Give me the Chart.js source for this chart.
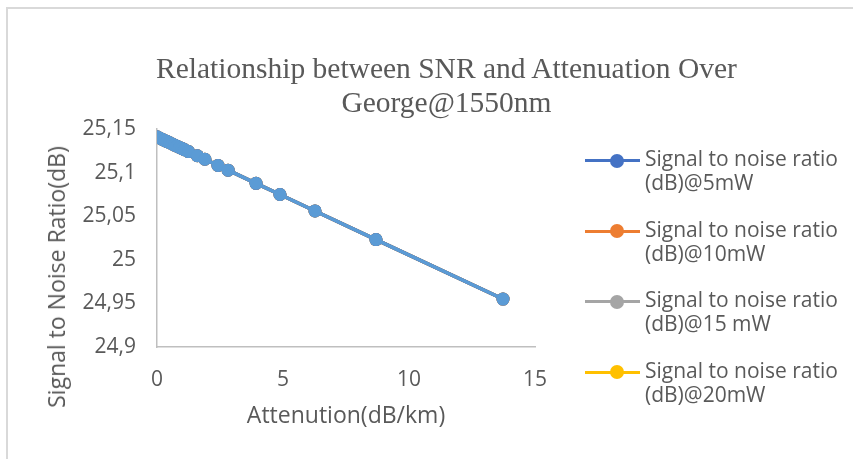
<!DOCTYPE html>
<html>
<head>
<meta charset="utf-8">
<script src="https://cdn.jsdelivr.net/npm/chart.js@4/dist/chart.umd.min.js"></script>
<style>
  html, body { margin: 0; padding: 0; background: #fff; overflow: hidden; }
  #wrap { position: relative; width: 853px; height: 459px; overflow: hidden; background: #fff; }
  #frame { position: absolute; left: 6px; top: 7px; width: 900px; height: 500px; border: 2px solid #d9d9d9; }
  #chart { position: absolute; left: 0; top: 0; }
  #title {
    position: absolute; left: 40px; width: 813px; top: 51px;
    text-align: center; font-family: "Liberation Serif", serif; font-size: 29.5px;
    line-height: 34px; color: #595959;
  }
  #ytitle {
    position: absolute; left: 56px; top: 277px; transform: translate(-50%, -50%) rotate(-90deg);
    font-family: "Open Sans", sans-serif; font-size: 23px; color: #595959; white-space: nowrap;
  }
  #legend { position: absolute; left: 585px; top: 146px; font-family: "Open Sans", sans-serif; font-size: 21px; color: #595959; }
  .item { position: relative; height: 70.5px; }
  .swatch { position: absolute; left: 0; top: 13px; width: 55px; height: 3px; }
  .dot { position: absolute; left: 25px; top: -5.5px; width: 14px; height: 14px; border-radius: 50%; }
  .text { position: absolute; left: 60px; top: 0; line-height: 24px; white-space: nowrap; }
</style>
</head>
<body>
<div id="wrap">
  <div id="frame"></div>
  <canvas id="chart" width="853" height="459"></canvas>
  <div id="title">Relationship between SNR and Attenuation Over<br>George@1550nm</div>
  <div id="ytitle">Signal to Noise Ratio(dB)</div>
  <div id="legend"></div>
</div>
<script>
// attenuation (dB/km)
const attenuation = [0, 0.1, 0.2, 0.3, 0.4, 0.5, 0.6, 0.7, 0.8, 0.9, 1.0, 1.1, 1.25,
  1.6, 1.9, 2.42, 2.82, 3.93, 4.88, 6.27, 8.69, 13.73];

// SNR (dB), the series all sit on top of each other
const snr5mW = [25.141, 25.1396, 25.1383, 25.1369, 25.1356, 25.1342, 25.1329, 25.1315, 25.1302, 25.1288, 25.1275, 25.1261, 25.1241,
  25.1193, 25.1153, 25.1082, 25.1028, 25.0877, 25.0749, 25.0560, 25.0232, 24.9550];
const snr10mW = [25.141, 25.1396, 25.1383, 25.1369, 25.1356, 25.1342, 25.1329, 25.1315, 25.1302, 25.1288, 25.1275, 25.1261, 25.1241,
  25.1193, 25.1153, 25.1082, 25.1028, 25.0877, 25.0749, 25.0560, 25.0232, 24.9550];
const snr15mW = [25.141, 25.1396, 25.1383, 25.1369, 25.1356, 25.1342, 25.1329, 25.1315, 25.1302, 25.1288, 25.1275, 25.1261, 25.1241,
  25.1193, 25.1153, 25.1082, 25.1028, 25.0877, 25.0749, 25.0560, 25.0232, 24.9550];
const snr20mW = [25.141, 25.1396, 25.1383, 25.1369, 25.1356, 25.1342, 25.1329, 25.1315, 25.1302, 25.1288, 25.1275, 25.1261, 25.1241,
  25.1193, 25.1153, 25.1082, 25.1028, 25.0877, 25.0749, 25.0560, 25.0232, 24.9550];
// extra series that ends up drawn on top (not in the legend)
const snrTop = [25.141, 25.1396, 25.1383, 25.1369, 25.1356, 25.1342, 25.1329, 25.1315, 25.1302, 25.1288, 25.1275, 25.1261, 25.1241,
  25.1193, 25.1153, 25.1082, 25.1028, 25.0877, 25.0749, 25.0560, 25.0232, 24.9550];

const seriesNames = ['Signal to noise ratio (dB)@5mW', 'Signal to noise ratio (dB)@10mW',
  'Signal to noise ratio (dB)@15 mW', 'Signal to noise ratio (dB)@20mW'];
const legendLines = [['Signal to noise ratio', '(dB)@5mW'], ['Signal to noise ratio', '(dB)@10mW'],
  ['Signal to noise ratio', '(dB)@15 mW'], ['Signal to noise ratio', '(dB)@20mW']];
const seriesColors = ['#4472C4', '#ED7D31', '#A5A5A5', '#FFC000'];

const xTickLabels = ['0', '5', '10', '15'];
const yTickLabels = ['24,9', '24,95', '25', '25,05', '25,1', '25,15'];

const toPoints = ys => attenuation.map((x, i) => ({ x, y: ys[i] }));

function makeDataset(label, ys, color) {
  return {
    label,
    data: toPoints(ys),
    borderColor: color,
    backgroundColor: color,
    borderWidth: 3.5,
    pointRadius: 6.5,
    pointHoverRadius: 6.5,
    pointBorderWidth: 0,
    showLine: true,
    fill: false
  };
}

// chart.js paints dataset 0 last, so the top one goes first
const datasets = [
  makeDataset('top', snrTop, '#5B9BD5'),
  makeDataset(seriesNames[0], snr5mW, seriesColors[0]),
  makeDataset(seriesNames[1], snr10mW, seriesColors[1]),
  makeDataset(seriesNames[2], snr15mW, seriesColors[2]),
  makeDataset(seriesNames[3], snr20mW, seriesColors[3])
];

const tickFont = { family: 'Open Sans', size: 21 };
const titleFont = { family: 'Open Sans', size: 23 };

new Chart(document.getElementById('chart').getContext('2d'), {
  type: 'scatter',
  data: { datasets },
  options: {
    responsive: false,
    animation: false,
    layout: { padding: { left: 15, top: 129, right: 318, bottom: 0 } },
    plugins: { legend: { display: false }, title: { display: false }, tooltip: { enabled: false } },
    scales: {
      x: {
        type: 'linear', min: 0, max: 15,
        ticks: { stepSize: 5, color: '#595959', font: tickFont, padding: 12,
          callback: (v, i) => xTickLabels[i] },
        grid: { display: false },
        border: { display: true, color: '#bfbfbf', width: 1.5 },
        title: { display: true, text: 'Attenution(dB/km)', color: '#595959', font: titleFont, padding: { top: 0, bottom: 29 } },
        afterFit: s => { s.height = 459 - 347; }
      },
      y: {
        type: 'linear', min: 24.9, max: 25.15,
        ticks: { stepSize: 0.05, color: '#595959', font: tickFont, padding: 13,
          callback: (v, i) => yTickLabels[i] },
        grid: { display: false },
        border: { display: true, color: '#bfbfbf', width: 1.5 },
        afterFit: s => { s.width = 157 - 15; }
      }
    }
  }
});

// legend with two-line labels
const legend = document.getElementById('legend');
legendLines.forEach((lines, i) => {
  const item = document.createElement('div');
  item.className = 'item';
  item.innerHTML = `<div class="swatch" style="background:${seriesColors[i]}"><div class="dot" style="background:${seriesColors[i]}"></div></div>` +
    `<div class="text">${lines.join('<br>')}</div>`;
  legend.appendChild(item);
});
</script>
</body>
</html>
